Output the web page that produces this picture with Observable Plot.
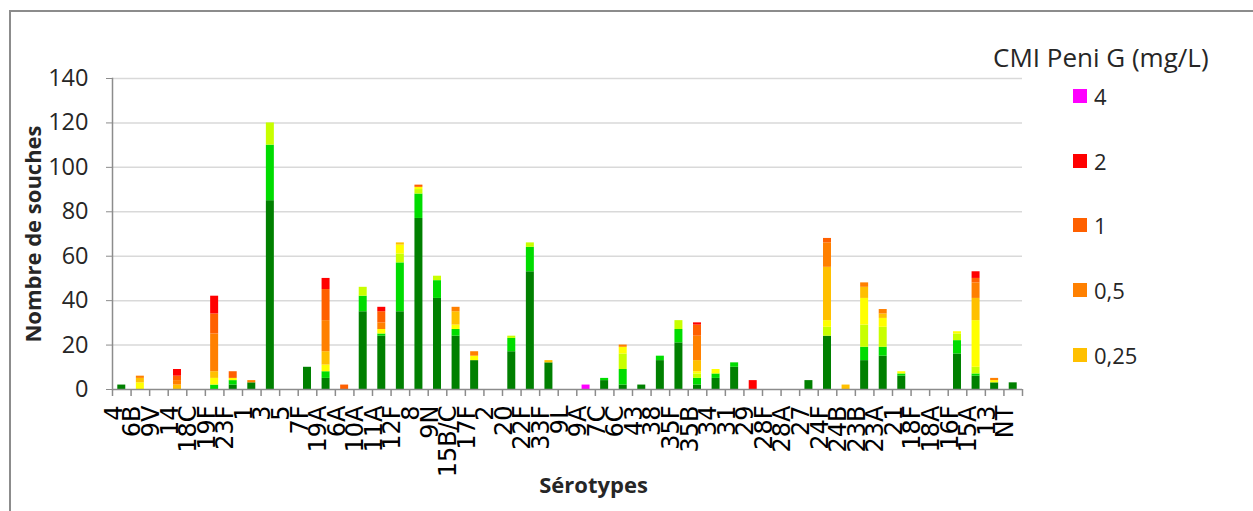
<!DOCTYPE html>
<html>
<head>
<meta charset="utf-8">
<script src="https://cdn.jsdelivr.net/npm/d3@7"></script>
<script src="https://cdn.jsdelivr.net/npm/@observablehq/plot@0.6"></script>
<style>
  body { margin: 0; background: #fff; }
  #wrap { position: relative; width: 1253px; height: 511px; overflow: hidden; font-family: "Open Sans", sans-serif; color: #262626; }
  #box { position: absolute; left: 9px; top: 10px; width: 1400px; height: 700px; border: 2px solid #8c8c8c; box-sizing: border-box; }
  #chart { position: absolute; left: 0; top: 0; }
  #legend-title { position: absolute; left: 993px; top: 39px; font-size: 26px; line-height: 36px; white-space: nowrap; }
  .item { position: absolute; left: 1073px; height: 24px; display: flex; align-items: center; font-size: 22px; white-space: nowrap; }
  .sw { width: 14px; height: 14px; margin-right: 7px; }
</style>
</head>
<body>
<div id="wrap">
  <div id="box"></div>
  <div id="chart"></div>
  <div id="legend-title">CMI Peni G (mg/L)</div>
</div>
<script>
// Sérotypes, in display order
const serotypes = ["4","6B","9V","14","18C","19F","23F","1","3","5",
  "7F","19A","6A","10A","11A","12F","8","9N","15B/C","17F",
  "2","20","22F","33F","9L","9A","7C","6C","43","38",
  "35F","35B","34","31","29","28F","28A","27","24F","24B",
  "23B","23A","21","18F","18A","16F","15A","13","NT"];

// MIC classes of penicillin G (mg/L), stacked from the bottom up
const micLevels = ["≤0,016","0,03","0,06","0,125","0,25","0,5","1","2","4"];
const micColors = ["#008000","#00dc00","#c8ff00","#ffff00","#ffc000","#ff8000","#ff6000","#ff0000","#ff00ff"];

// Number of strains per serotype for each MIC class
const mic016 = [2,0,0,0,0,0,2,3,85,0, 10,5,0,35,24,35,77,41,24,13, 0,17,53,12,0,0,4,2,2,13, 21,2,5,10,0,0,0,4,24,0, 13,15,6,0,0,16,6,3,3];
const mic03  = [0,0,0,0,0,2,2,0,25,0, 0,3,0,7,1,22,11,8,3,0, 0,6,11,0,0,0,1,7,0,2, 6,3,2,2,0,0,0,0,0,0, 6,4,1,0,0,6,1,0,0];
const mic06  = [0,0,0,0,0,0,0,0,10,0, 0,0,0,4,0,4,2,2,0,0, 0,1,2,0,0,0,0,7,0,0, 4,2,0,0,0,0,0,0,4,0, 10,9,0,0,0,3,3,0,0];
const mic125 = [0,3,0,0,0,3,1,0,0,0, 0,3,0,0,2,4,1,0,2,2, 0,0,0,0,0,0,0,3,0,0, 0,1,2,0,0,0,0,0,3,0, 12,4,1,0,0,1,21,1,0];
const mic25  = [0,2,0,2,0,3,0,0,0,0, 0,6,0,0,0,1,0,0,6,0, 0,0,0,1,0,0,0,0,0,0, 0,5,0,0,0,0,0,0,24,2, 5,2,0,0,0,0,10,0,0];
const mic5   = [0,1,0,2,0,17,0,1,0,0, 0,14,0,0,3,0,0,0,2,2, 0,0,0,0,0,0,0,1,0,0, 0,11,0,0,0,0,0,0,11,0, 2,2,0,0,0,0,7,1,0];
const mic1   = [0,0,0,2,0,9,3,0,0,0, 0,14,2,0,5,0,1,0,0,0, 0,0,0,0,0,0,0,0,0,0, 0,5,0,0,0,0,0,0,2,0, 0,0,0,0,0,0,2,0,0];
const mic2   = [0,0,0,3,0,8,0,0,0,0, 0,5,0,0,2,0,0,0,0,0, 0,0,0,0,0,0,0,0,0,0, 0,1,0,0,4,0,0,0,0,0, 0,0,0,0,0,0,3,0,0];
const mic4   = [0,0,0,0,0,0,0,0,0,0, 0,0,0,0,0,0,0,0,0,0, 0,0,0,0,0,2,0,0,0,0, 0,0,0,0,0,0,0,0,0,0, 0,0,0,0,0,0,0,0,0];

// Classes shown in the legend (highest first)
const legendLevels = ["4","2","1","0,5","0,25"];

const series = [mic016, mic03, mic06, mic125, mic25, mic5, mic1, mic2, mic4];
const rows = [];
series.forEach((vals, k) => {
  vals.forEach((v, i) => {
    if (v > 0) rows.push({serotype: serotypes[i], mic: micLevels[k], count: v});
  });
});

const W = 1253, H = 511;
const mL = 112, mR = 231, mT = 78, mB = 122;
const step = (W - mL - mR) / serotypes.length;
const pxPerUnit = (H - mT - mB) / 140;
const axisGray = "#8c8c8c";

const chart = Plot.plot({
  width: W,
  height: H,
  marginLeft: mL,
  marginRight: mR,
  marginTop: mT,
  marginBottom: mB,
  style: {background: "transparent", fontFamily: "Open Sans, sans-serif", overflow: "visible"},
  x: {domain: serotypes, paddingInner: 0.57, paddingOuter: 0.285, round: false, axis: null},
  y: {domain: [0, 140], axis: null},
  color: {domain: micLevels, range: micColors},
  marks: [
    Plot.gridY({ticks: d3.range(20, 141, 20), stroke: "#d9d9d9", strokeOpacity: 1, strokeWidth: 1.5}),
    Plot.barY(rows, {x: "serotype", y: "count", fill: "mic", order: null}),
    Plot.frame({anchor: "left", stroke: axisGray, strokeWidth: 1.5}),
    Plot.ruleY([0], {stroke: axisGray, strokeWidth: 1.5}),
    // boundary ticks between categories
    Plot.ruleX(serotypes, {x: d => d, dx: -step / 2, y1: 0, y2: -7 / pxPerUnit, stroke: axisGray, strokeWidth: 1.5}),
    Plot.ruleX(serotypes.slice(-1), {x: d => d, dx: step / 2, y1: 0, y2: -7 / pxPerUnit, stroke: axisGray, strokeWidth: 1.5}),
    Plot.axisY({ticks: d3.range(0, 141, 20), tickSize: 6, tickPadding: 18, fontSize: 23.5, stroke: axisGray, fill: "#262626", label: null}),
    Plot.text(serotypes, {x: d => d, frameAnchor: "bottom", rotate: -90, textAnchor: "end", dy: 16,
      fontSize: 24, fontFamily: "DejaVu Sans", fill: "#000"}),
    Plot.text(["Nombre de souches"], {frameAnchor: "left", textAnchor: "middle", dx: -79, rotate: -90, fontSize: 22, fontWeight: "bold", fill: "#262626"}),
    Plot.text(["Sérotypes"], {frameAnchor: "bottom", textAnchor: "middle", dx: 26, dy: 103, fontSize: 22, fontWeight: "bold", fill: "#262626"})
  ]
});
document.getElementById("chart").appendChild(chart);

// Legend
const colorOf = d3.scaleOrdinal(micLevels, micColors);
const wrap = d3.select("#wrap");
legendLevels.forEach((lvl, i) => {
  const item = wrap.append("div").attr("class", "item").style("top", (84 + i * 64.7) + "px");
  item.append("div").attr("class", "sw").style("background", colorOf(lvl));
  item.append("span").text(lvl);
});
</script>
</body>
</html>
